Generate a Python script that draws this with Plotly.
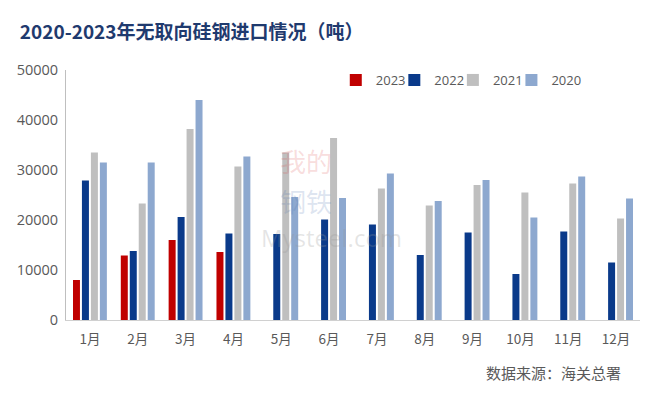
import plotly.graph_objects as go

months = ["1月", "2月", "3月", "4月", "5月", "6月", "7月", "8月", "9月", "10月", "11月", "12月"]
y2023 = [8000, 12900, 16000, 13600, None, None, None, None, None, None, None, None]
y2022 = [27900, 13800, 20600, 17300, 17200, 20100, 19100, 13000, 17500, 9200, 17700, 11500]
y2021 = [33500, 23300, 38200, 30700, 33500, 36400, 26300, 22900, 27000, 25500, 27300, 20300]
y2020 = [31500, 31500, 44000, 32700, 24600, 24400, 29300, 23800, 28000, 20500, 28700, 24300]
series_names = ["2023", "2022", "2021", "2020"]
colors = ["#C00000", "#0A3A8A", "#BFBFBF", "#8DA8CF"]
legend_ids = ["legend", "legend2", "legend3", "legend4"]
legend_x = [0.47, 0.572, 0.674, 0.776]

fig = go.Figure()
for name, vals, c, lg in zip(series_names, [y2023, y2022, y2021, y2020], colors, legend_ids):
    fig.add_trace(go.Bar(x=months, y=vals, name=name, legend=lg, showlegend=True,
                         marker=dict(color=c, line=dict(width=0))))

font_cjk = "Noto Sans CJK SC, Open Sans, sans-serif"
legend_style = dict(orientation="h", xanchor="left", y=0.96, yanchor="middle",
                    font=dict(family="Open Sans, sans-serif", size=13, color="#595959"),
                    itemwidth=30, bgcolor="rgba(0,0,0,0)")
legends = {lg: dict(x=lx, **legend_style) for lg, lx in zip(legend_ids, legend_x)}

fig.update_layout(
    width=660, height=397,
    margin=dict(l=66, r=20, t=70, b=77),
    paper_bgcolor="white", plot_bgcolor="white",
    showlegend=True,
    barmode="group", bargap=0.25, bargroupgap=0.22,
    title=dict(text="<b>2020-2023年无取向硅钢进口情况（吨）</b>", x=0.03, xanchor="left",
               y=0.918, yanchor="middle",
               font=dict(family=font_cjk, size=19, color="#1F3A6E")),
    xaxis=dict(showline=True, linecolor="#D0D0D0", linewidth=1, ticks="", ticklabelstandoff=7,
               tickfont=dict(family=font_cjk, size=13.5, color="#595959"), showgrid=False),
    yaxis=dict(range=[0, 50000], dtick=10000, tickformat="d", showline=True, linecolor="#BFBFBF",
               linewidth=1, showgrid=False, zeroline=False, ticks="", ticklabelstandoff=4,
               tickfont=dict(family="Open Sans, sans-serif", size=14.5, color="#595959")),
    font=dict(family=font_cjk),
    **legends,
)

# watermark
fig.add_annotation(text="我的", xref="paper", yref="paper", x=0.418, y=0.64,
                   xanchor="center", yanchor="middle", showarrow=False,
                   font=dict(family=font_cjk, size=26, color="rgba(220,80,80,0.2)"))
fig.add_annotation(text="钢铁", xref="paper", yref="paper", x=0.418, y=0.48,
                   xanchor="center", yanchor="middle", showarrow=False,
                   font=dict(family=font_cjk, size=26, color="rgba(80,120,180,0.2)"))
fig.add_annotation(text="Mysteel.com", xref="paper", yref="paper", x=0.463, y=0.33,
                   xanchor="center", yanchor="middle", showarrow=False,
                   font=dict(family="Open Sans, sans-serif", size=24, color="rgba(150,150,150,0.25)"))

# source
fig.add_annotation(text="数据来源：海关总署", xref="paper", yref="paper", x=0.97, y=-0.21,
                   xanchor="right", yanchor="middle", showarrow=False,
                   font=dict(family=font_cjk, size=15, color="#595959"))

fig.write_html("out.html", config={"displayModeBar": False},
               post_script="document.body.style.margin='0';document.body.style.padding='0';")
